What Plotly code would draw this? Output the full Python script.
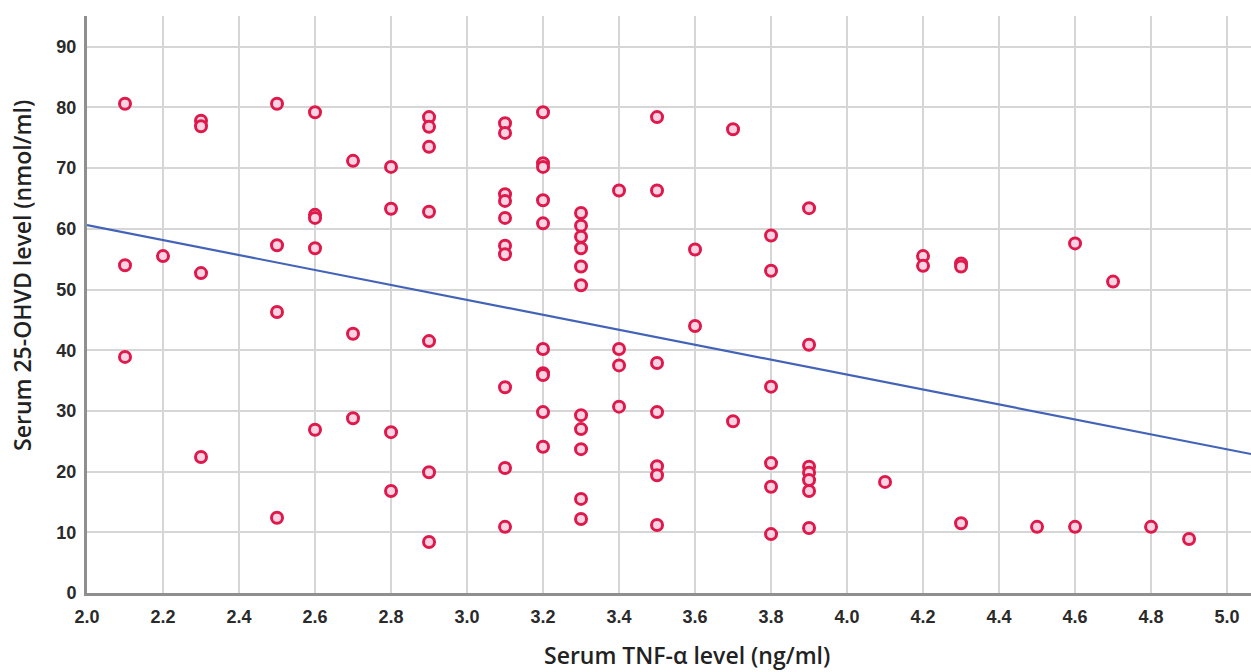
import plotly.graph_objects as go

tnf = [2.1, 2.1, 2.1,
       2.2,
       2.3, 2.3, 2.3, 2.3,
       2.5, 2.5, 2.5, 2.5,
       2.6, 2.6, 2.6, 2.6, 2.6,
       2.7, 2.7, 2.7,
       2.8, 2.8, 2.8, 2.8,
       2.9, 2.9, 2.9, 2.9, 2.9, 2.9, 2.9,
       3.1, 3.1, 3.1, 3.1, 3.1, 3.1, 3.1, 3.1, 3.1, 3.1,
       3.2, 3.2, 3.2, 3.2, 3.2, 3.2, 3.2, 3.2, 3.2, 3.2,
       3.3, 3.3, 3.3, 3.3, 3.3, 3.3, 3.3, 3.3, 3.3, 3.3, 3.3,
       3.4, 3.4, 3.4, 3.4,
       3.5, 3.5, 3.5, 3.5, 3.5, 3.5, 3.5,
       3.6, 3.6,
       3.7, 3.7,
       3.8, 3.8, 3.8, 3.8, 3.8, 3.8,
       3.9, 3.9, 3.9, 3.9, 3.9, 3.9, 3.9,
       4.1,
       4.2, 4.2,
       4.3, 4.3, 4.3,
       4.5,
       4.6, 4.6,
       4.7,
       4.8,
       4.9]
ohvd = [80.6, 54.0, 38.9,
        55.5,
        77.8, 76.9, 52.7, 22.4,
        80.6, 57.3, 46.3, 12.4,
        79.2, 62.3, 61.8, 56.8, 26.9,
        71.2, 42.7, 28.8,
        70.2, 63.3, 26.5, 16.8,
        78.4, 76.8, 73.5, 62.8, 41.5, 19.9, 8.4,
        77.4, 75.8, 65.7, 64.6, 61.8, 57.2, 55.8, 33.9, 20.6, 10.9,
        79.2, 70.8, 70.2, 64.7, 60.9, 40.2, 36.2, 35.9, 29.8, 24.1,
        62.6, 60.5, 58.7, 56.8, 53.8, 50.7, 29.3, 27.0, 23.7, 15.5, 12.2,
        66.3, 40.2, 37.5, 30.7,
        78.4, 66.3, 37.9, 29.8, 20.9, 19.4, 11.2,
        56.6, 44.0,
        76.4, 28.3,
        58.9, 53.1, 34.0, 21.4, 17.5, 9.7,
        63.4, 40.9, 20.8, 19.8, 18.6, 16.8, 10.7,
        18.3,
        55.5, 53.9,
        54.3, 53.8, 11.5,
        10.9,
        57.6, 10.9,
        51.3,
        10.9,
        8.9]

# Fit line end points
fit_x = [2.0, 5.063]
fit_y = [60.6, 22.9]

x_ticks = [2.0, 2.2, 2.4, 2.6, 2.8, 3.0, 3.2, 3.4, 3.6, 3.8, 4.0, 4.2, 4.4, 4.6, 4.8, 5.0]
y_ticks = [0, 10, 20, 30, 40, 50, 60, 70, 80, 90]

x_title = "Serum TNF-α level (ng/ml)"
y_title = "Serum 25-OHVD level (nmol/ml)"

fig = go.Figure()
fig.add_trace(go.Scatter(
    x=fit_x, y=fit_y, mode="lines",
    line=dict(color="#4363b8", width=2.2),
    showlegend=False, hoverinfo="skip"))
fig.add_trace(go.Scatter(
    x=tnf, y=ohvd, mode="markers",
    marker=dict(symbol="circle", size=11, color="#fbd3e3",
                line=dict(color="#de1a4c", width=3)),
    showlegend=False))

tick_font = dict(size=18, family="Liberation Sans, Arial, sans-serif", weight="bold", color="#2a2a2a")
title_font = dict(size=23, family="Open Sans, sans-serif", weight=600, color="#222222")

fig.update_layout(
    width=1251, height=672,
    margin=dict(l=87, r=0, t=16, b=79),
    paper_bgcolor="white", plot_bgcolor="white",
    xaxis=dict(
        range=[2.0, 5.063], tickvals=x_ticks,
        ticktext=[f"{v:.1f}" for v in x_ticks],
        tickfont=tick_font,
        showgrid=True, gridcolor="#d6d6d6", gridwidth=2,
        showline=True, linecolor="#8f8f8f", linewidth=3,
        zeroline=False, ticks="outside", ticklen=5, tickcolor="rgba(0,0,0,0)",
    ),
    yaxis=dict(
        range=[0, 95.06], tickvals=y_ticks,
        ticktext=[str(v) for v in y_ticks],
        tickfont=tick_font,
        showgrid=True, gridcolor="#d6d6d6", gridwidth=2,
        showline=True, linecolor="#8f8f8f", linewidth=3,
        zeroline=False, ticks="outside", ticklen=4, tickcolor="rgba(0,0,0,0)",
    ),
    annotations=[
        dict(text=x_title, xref="paper", yref="paper", x=0.5155, y=-0.1075,
             xanchor="center", yanchor="middle", showarrow=False, font=title_font),
        dict(text=y_title, xref="paper", yref="paper", x=-0.056, y=0.551,
             xanchor="center", yanchor="middle", textangle=-90, showarrow=False, font=title_font),
    ],
)

fig.write_html("out.html")
